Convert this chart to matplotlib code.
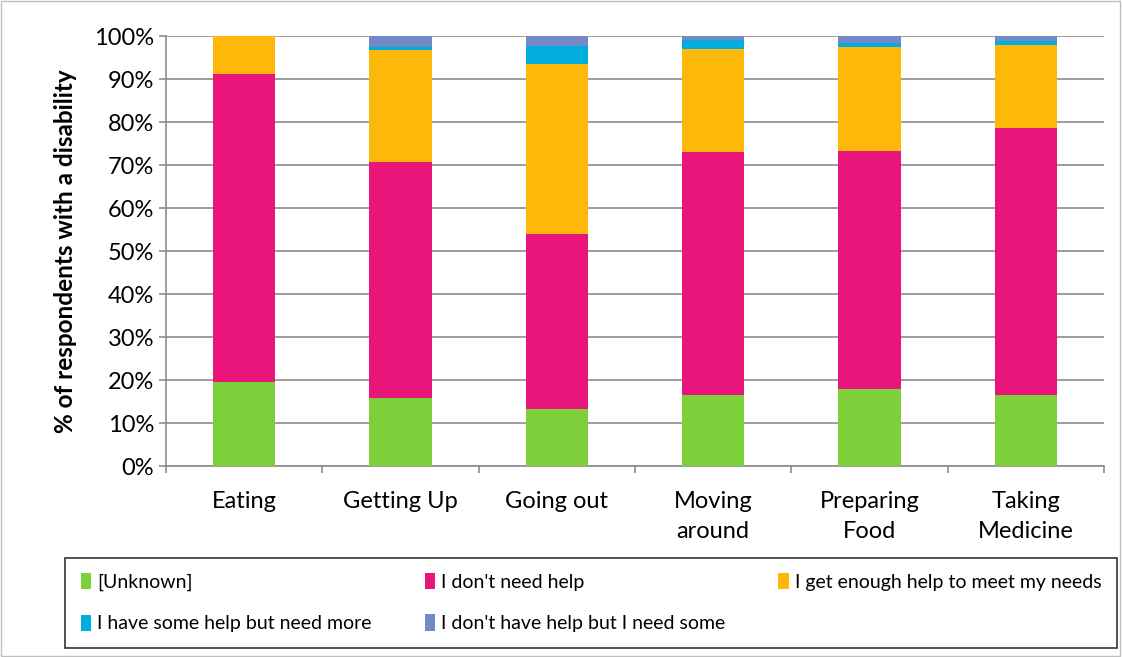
import matplotlib.pyplot as plt
import numpy as np
from matplotlib.ticker import PercentFormatter, FixedLocator
from matplotlib.patches import Rectangle

plt.rcParams['font.family'] = ['Lato', 'DejaVu Sans']

categories = ['Eating', 'Getting Up', 'Going out', 'Moving\naround', 'Preparing\nFood', 'Taking\nMedicine']
unknown = [19.5, 15.8, 13.3, 16.5, 17.9, 16.5]
no_need = [71.7, 54.9, 40.7, 56.5, 55.4, 62.1]
enough = [8.8, 26.0, 39.6, 23.9, 24.2, 19.3]
need_more = [0.0, 0.8, 4.1, 2.2, 0.9, 1.0]
need_some = [0.0, 2.5, 2.3, 0.9, 1.6, 1.1]

series = [
    ('[Unknown]', unknown, '#7ED03B'),
    ("I don't need help", no_need, '#EA157A'),
    ('I get enough help to meet my needs', enough, '#FEB80A'),
    ('I have some help but need more', need_more, '#00ADDC'),
    ("I don't have help but I need some", need_some, '#738AC8'),
]

fig = plt.figure(figsize=(11.22, 6.57), dpi=100)
ax = fig.add_axes([0.148, 0.2907, 0.836, 0.6543])

x = np.arange(len(categories))
bottom = np.zeros(len(categories))
bars = {}
for name, vals, col in series:
    bars[name] = ax.bar(x, vals, 0.4, bottom=bottom, color=col, label=name, zorder=3)
    bottom += np.array(vals)

ax.set_xlim(-0.5, len(categories) - 0.5)
ax.set_ylim(0, 100)
ax.set_yticks(np.arange(0, 101, 10))
ax.yaxis.set_major_formatter(PercentFormatter(decimals=0))
ax.grid(axis='y', color='#8c8c8c', linewidth=1.2, zorder=0)
ax.set_xticks(x)
ax.set_xticklabels(categories, fontsize=17, linespacing=1.55)
ax.tick_params(axis='x', which='major', length=0, pad=18)
ax.xaxis.set_minor_locator(FixedLocator(np.arange(-0.5, len(categories), 1)))
ax.tick_params(axis='x', which='minor', length=5, color='#8c8c8c', width=1.2)
ax.tick_params(axis='y', labelsize=17, length=5, color='#8c8c8c', width=1.2)
for s in ['top', 'right']:
    ax.spines[s].set_visible(False)
for s in ['left', 'bottom']:
    ax.spines[s].set_color('#8c8c8c')
    ax.spines[s].set_linewidth(1.2)
ax.set_ylabel('% of respondents with a disability', fontsize=17.5, fontweight='bold', labelpad=12)

order = ['[Unknown]', 'I have some help but need more', "I don't need help",
         "I don't have help but I need some", 'I get enough help to meet my needs']
leg = fig.legend([bars[n] for n in order], order, ncol=3, mode='expand',
                 bbox_to_anchor=(0.058, 0.0137, 0.9376, 0.129), loc='lower left',
                 fancybox=False, edgecolor='black', fontsize=14,
                 handlelength=0.55, handleheight=0.9, handletextpad=0.3,
                 borderaxespad=0, labelspacing=1.2, borderpad=0.8, columnspacing=1.0)
leg.get_frame().set_linewidth(1.2)

fig.patches.append(Rectangle((0.001, 0.001), 0.997, 0.997, transform=fig.transFigure,
                             fill=False, edgecolor='#bfbfbf', linewidth=1))

fig.savefig('out.png', dpi=100)
